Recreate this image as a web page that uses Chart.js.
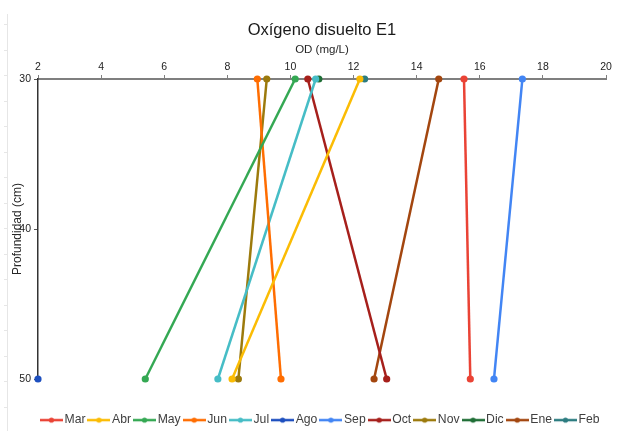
<!DOCTYPE html>
<html>
<head>
<meta charset="utf-8">
<script src="https://cdn.jsdelivr.net/npm/chart.js@4/dist/chart.umd.min.js"></script>
<style>
  html, body { margin: 0; padding: 0; background: #ffffff; }
  #wrap { width: 618px; height: 431px; }
</style>
</head>
<body>
<div id="wrap"><canvas id="c" width="618" height="431"></canvas></div>
<script>
// Dissolved oxygen (mg/L) by depth (cm), station E1, one series per month
const depths = [30, 50];
const months = ['Mar', 'Abr', 'May', 'Jun', 'Jul', 'Ago', 'Sep', 'Oct', 'Nov', 'Dic', 'Ene', 'Feb'];

const odMar = [15.5, 15.7];
const odAbr = [12.2, 8.15];
const odMay = [10.15, 5.4];
const odJun = [8.95, 9.7];
const odJul = [10.8, 7.7];
const odAgo = [null, 2.0];
const odSep = [17.35, 16.45];
const odOct = [10.55, 13.05];
const odNov = [9.25, 8.35];
const odDic = [10.9, null];
const odEne = [14.7, 12.65];
const odFeb = [12.35, null];

const xTicks = [2, 4, 6, 8, 10, 12, 14, 16, 18, 20];
const yTicks = [30, 40, 50];

const seriesValues = [odMar, odAbr, odMay, odJun, odJul, odAgo, odSep, odOct, odNov, odDic, odEne, odFeb];

const palette = ['#ea4335', '#fbbc04', '#34a853', '#ff6d01', '#46bdc6', '#1d4fbf',
                 '#4285f4', '#a61f1b', '#9c7a0c', '#1f6e36', '#a3460f', '#2c7c80'];

const FONT = "'Liberation Sans', Arial, sans-serif";

// small line-with-dot swatch for each legend entry
function swatch(color) {
  const cv = document.createElement('canvas');
  cv.width = 23; cv.height = 8;
  const g = cv.getContext('2d');
  g.strokeStyle = color; g.lineWidth = 2.5;
  g.beginPath(); g.moveTo(0, 4); g.lineTo(23, 4); g.stroke();
  g.fillStyle = color;
  g.beginPath(); g.arc(11.5, 4, 2.6, 0, Math.PI * 2); g.fill();
  return cv;
}
const swatches = palette.map(swatch);

const datasets = months.map((m, i) => ({
  label: m,
  data: depths.map((d, k) => ({ x: seriesValues[i][k], y: d })).filter(p => p.x !== null),
  borderColor: palette[i],
  backgroundColor: palette[i],
  borderWidth: 2.5,
  pointRadius: 3.6,
  pointHoverRadius: 3.6,
  pointBorderWidth: 0,
  showLine: true,
  clip: false
}));

// faint ruler line along the left edge of the page
const edgeRuler = {
  id: 'edgeRuler',
  beforeDraw(chart) {
    const ctx = chart.ctx;
    ctx.save();
    ctx.strokeStyle = '#e6e6e6';
    ctx.lineWidth = 1;
    ctx.beginPath();
    ctx.moveTo(7.5, 14); ctx.lineTo(7.5, 431);
    for (let y = 24; y < 431; y += 25.5) {
      ctx.moveTo(4, Math.round(y) + 0.5); ctx.lineTo(7.5, Math.round(y) + 0.5);
    }
    ctx.stroke();
    ctx.restore();
  }
};

new Chart(document.getElementById('c'), {
  type: 'scatter',
  data: { datasets },
  plugins: [edgeRuler],
  options: {
    responsive: false,
    devicePixelRatio: 1,
    animation: false,
    events: [],
    // title and legend are centred over the plot area rather than the page
    layout: { padding: { left: 0, right: -26, top: 0, bottom: 0 } },
    plugins: {
      tooltip: { enabled: false },
      title: {
        display: true,
        text: 'Oxígeno disuelto E1',
        color: '#1a1a1a',
        font: { family: FONT, size: 16.5, weight: 'normal' },
        padding: { top: 21, bottom: 0 }
      },
      legend: {
        position: 'bottom',
        maxHeight: 52,
        title: { display: true, text: '', font: { size: 10 }, padding: { top: 16.5, bottom: 0 } },
        labels: {
          font: { family: FONT, size: 12.2 },
          color: '#404040',
          padding: 6.5,
          usePointStyle: true,
          pointStyleWidth: 14,
          generateLabels(chart) {
            const items = Chart.defaults.plugins.legend.labels.generateLabels(chart);
            items.forEach((it, i) => { it.pointStyle = swatches[i]; it.fontColor = '#404040'; });
            return items;
          }
        }
      }
    },
    scales: {
      x: {
        type: 'linear',
        position: 'top',
        min: xTicks[0],
        max: xTicks[xTicks.length - 1],
        afterBuildTicks(s) { s.ticks = xTicks.map(v => ({ value: v })); },
        afterFit(s) { s.height = 38.2; s.paddingRight = 12; s.paddingLeft = 0; },
        ticks: { color: '#222222', font: { family: FONT, size: 10.5 }, padding: 2, maxRotation: 0 },
        grid: { drawOnChartArea: false, drawTicks: true, tickLength: 4, color: '#7f7f7f', lineWidth: 1 },
        border: { display: true, color: '#7f7f7f', width: 2 },
        title: {
          display: true,
          text: 'OD (mg/L)',
          color: '#262626',
          font: { family: FONT, size: 11.5 },
          padding: { top: 2, bottom: 0 }
        }
      },
      y: {
        type: 'linear',
        reverse: true,
        min: yTicks[0],
        max: yTicks[yTicks.length - 1],
        afterBuildTicks(s) { s.ticks = yTicks.map(v => ({ value: v })); },
        afterFit(s) { s.width = 38; },
        ticks: { color: '#222222', font: { family: FONT, size: 10.5 }, padding: 3 },
        grid: { drawOnChartArea: false, drawTicks: true, tickLength: 4, color: '#555555', lineWidth: 1 },
        border: { display: true, color: '#333333', width: 1.5 },
        title: {
          display: true,
          text: 'Profundidad (cm)',
          color: '#262626',
          font: { family: FONT, size: 12 },
          padding: { top: 10.5, bottom: 0 }
        }
      }
    }
  }
});
</script>
</body>
</html>
